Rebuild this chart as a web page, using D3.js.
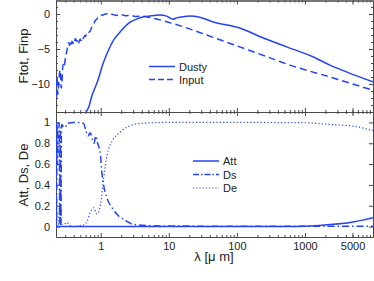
<!DOCTYPE html>
<html><head><meta charset="utf-8">
<title>Dusty vs Input</title>
<script src="https://cdn.jsdelivr.net/npm/d3@7"></script>
<style>
body { margin: 0; background: #fff; }
text { font-family: "Liberation Sans", Arial, Helvetica, sans-serif; fill: #222; }
.axis path, .axis line { stroke: #4a4a4a; }
</style>
</head>
<body>
<script>

// ---- data ----
// top panel: log flux, Dusty (solid) and Input (dashed)
var lamDusty = [0.59, 0.62, 0.667, 0.745, 0.836, 0.935, 1.045, 1.24, 1.55, 1.95, 2.58, 3.41, 4.29, 5.5, 7.4, 9.3, 11.5, 13, 16, 20, 28.5, 44, 110, 240, 540, 1310, 2330, 4150, 10000];
var fDusty   = [-14.6, -13.9, -13.3, -11.6, -10.4, -9.1, -7.5, -5.6, -3.7, -2.5, -1.3, -0.7, -0.4, -0.25, -0.15, -0.3, -0.75, -0.55, -0.4, -0.28, -0.45, -1.1, -2, -3.4, -4.7, -6.1, -7.3, -8.3, -9.7];

var lamInput = [0.216, 0.222, 0.228, 0.234, 0.241, 0.248, 0.255, 0.262, 0.27, 0.278, 0.286, 0.303, 0.32, 0.338, 0.35, 0.36, 0.37, 0.378, 0.39, 0.4, 0.412, 0.424, 0.437, 0.45, 0.462, 0.475, 0.49, 0.5, 0.515, 0.53, 0.545, 0.56, 0.58, 0.596, 0.62, 0.645, 0.667, 0.7, 0.745, 0.78, 0.836, 0.88, 0.935, 1.0, 1.1, 1.22, 1.32, 1.45, 1.7, 1.95, 2.3, 2.73, 3.2, 3.83, 5.25, 9.3, 16, 44, 110, 275, 600, 2330, 10000];
var fInput   = [-10.9, -12.2, -9, -11.5, -10.1, -8.4, -8, -10.6, -9.7, -7.2, -7.6, -6.3, -5.1, -4.1, -4.5, -4.0, -4.4, -3.9, -4.2, -3.7, -3.9, -3.5, -3.8, -3.9, -3.6, -4.1, -3.7, -3.6, -3.8, -3.3, -3.5, -3.4, -3.1, -3.2, -2.9, -3.0, -2.7, -2.4, -1.8, -1.5, -0.9, -0.7, -0.3, -0.2, -0.1, 0.05, -0.15, -0.05, -0.2, -0.05, -0.25, -0.15, -0.35, -0.3, -0.5, -1.1, -1.8, -3.3, -4.7, -6.1, -7.3, -9, -10.9];

// bottom panel: Att (solid), Ds (dash-dot), De (dotted)
var lamAtt = [0.22, 1, 10, 100, 500, 1050, 2330, 3500, 5070, 7000, 10000];
var att    = [0.0, 0.0, 0.0, 0.0, 0.001, 0.004, 0.02, 0.03, 0.045, 0.062, 0.085];

var lamDs = [0.22, 0.224, 0.228, 0.232, 0.236, 0.245, 0.25, 0.255, 0.26, 0.265, 0.27, 0.28, 0.3, 0.32, 0.4, 0.475, 0.56, 0.6, 0.65, 0.7, 0.76, 0.8, 0.84, 0.9, 0.99, 1.045, 1.1, 1.24, 1.47, 1.74, 2.18, 3.05, 5, 10, 100, 1000, 10000];
var ds    = [1.0, 0.05, 0.98, 0.6, 1.0, 0.98, 0.03, 0.95, 0.02, 0.97, 0.98, 0.96, 0.95, 0.99, 1.0, 1.0, 0.99, 0.93, 0.87, 0.9, 0.83, 0.8, 0.87, 0.8, 0.69, 0.5, 0.4, 0.27, 0.18, 0.115, 0.07, 0.02, 0.01, 0.005, 0.004, 0.004, 0.004];

var lamDe = [0.22, 0.224, 0.228, 0.236, 0.25, 0.255, 0.26, 0.265, 0.3, 0.32, 0.35, 0.4, 0.5, 0.58, 0.63, 0.705, 0.79, 0.88, 0.99, 1.1, 1.24, 1.47, 1.95, 2.73, 3.83, 10, 100, 1000, 2330, 5070, 10000];
var de    = [0.0, 0.25, 0.02, 0.0, 0.2, 0.02, 0.15, 0.02, 0.03, 0.04, 0.01, 0.0, 0.01, 0.02, 0.05, 0.14, 0.18, 0.12, 0.21, 0.46, 0.69, 0.82, 0.91, 0.97, 0.99, 1.0, 1.0, 0.997, 0.98, 0.965, 0.92];

// tick values
var xMajor = [1, 10, 100, 1000, 5000];
var xLabels = ["1", "10", "100", "1000", "5000"];
var yTopMajor = [-10, -5, 0];
var yBotMajor = [0, 0.2, 0.4, 0.6, 0.8, 1];

// ---- svg ----
var width = 374;
var height = 281;
var svg = d3.select("body").append("svg").attr("width", width).attr("height", height);

var x = d3.scaleLog().domain([0.22, 10000]).range([56, 373]);
var yTop = d3.scaleLinear().domain([-14, 2]).range([112, 0]);
var yBot = d3.scaleLinear().domain([-0.1, 1.1]).range([237, 112]);

var blue = "#2443f2";

// minor ticks on the log axis
var xMinor = [];
[0.1, 1, 10, 100, 1000].forEach(function(dec) {
	for (var k = 2; k <= 9; k++) {
		var v = dec * k;
		if (v > 0.22 && v < 10000) xMinor.push(v);
	}
});
var yTopMinor = d3.range(-13, 2, 1);

function addAxis(axis, tx, ty) {
	return svg.append("g").attr("class", "axis")
		.attr("transform", "translate(" + tx + "," + ty + ")")
		.call(axis);
}

// top panel frame
addAxis(d3.axisBottom(x).tickValues(xMinor).tickSize(-2).tickSizeOuter(0).tickFormat(""), 0, 112);
addAxis(d3.axisBottom(x).tickValues(xMajor).tickSize(-4).tickSizeOuter(0).tickFormat(""), 0, 112);
addAxis(d3.axisTop(x).tickValues(xMinor).tickSize(-2).tickSizeOuter(0).tickFormat(""), 0, 0.5);
addAxis(d3.axisTop(x).tickValues(xMajor).tickSize(-4).tickSizeOuter(0).tickFormat(""), 0, 0.5);
addAxis(d3.axisLeft(yTop).tickValues(yTopMinor).tickSize(-2).tickSizeOuter(0).tickFormat(""), 56, 0);
addAxis(d3.axisRight(yTop).tickValues(yTopMinor).tickSize(-2).tickSizeOuter(0).tickFormat(""), 373, 0);
addAxis(d3.axisRight(yTop).tickValues(yTopMajor).tickSize(-4).tickSizeOuter(0).tickFormat(""), 373, 0);
addAxis(d3.axisLeft(yTop).tickValues(yTopMajor).tickSize(-4).tickSizeOuter(0).tickPadding(6)
	.tickFormat(function(d) { return d < 0 ? "\u2212" + Math.abs(d) : d; }), 56, 0);

// bottom panel frame
addAxis(d3.axisTop(x).tickValues(xMinor).tickSize(-2).tickSizeOuter(0).tickFormat(""), 0, 112);
addAxis(d3.axisTop(x).tickValues(xMajor).tickSize(-4).tickSizeOuter(0).tickFormat(""), 0, 112);
addAxis(d3.axisBottom(x).tickValues(xMinor).tickSize(-2).tickSizeOuter(0).tickFormat(""), 0, 237);
addAxis(d3.axisBottom(x).tickValues(xMajor).tickSize(-4).tickSizeOuter(0).tickPadding(5)
	.tickFormat(function(d, i) { return xLabels[i]; }), 0, 237);
addAxis(d3.axisRight(yBot).tickValues(yBotMajor).tickSize(-4).tickSizeOuter(0).tickFormat(""), 373, 0);
addAxis(d3.axisLeft(yBot).tickValues(yBotMajor).tickSize(-4).tickSizeOuter(0).tickPadding(6)
	.tickFormat(function(d) { return d === 0 || d === 1 ? d : d3.format(".1f")(d); }), 56, 0);

svg.selectAll(".axis text").style("font-size", "11px").style("fill", "#222");
svg.selectAll(".axis path").attr("stroke-width", 1);

// clip regions
var defs = svg.append("defs");
defs.append("clipPath").attr("id", "clipTop").append("rect")
	.attr("x", 56).attr("y", 0).attr("width", 317).attr("height", 112);
defs.append("clipPath").attr("id", "clipBot").append("rect")
	.attr("x", 56).attr("y", 112).attr("width", 317).attr("height", 125);

function drawLine(g, xs, ys, yScale, dash, w) {
	var pts = xs.map(function(d, i) { return [d, ys[i]]; });
	var line = d3.line()
		.x(function(d) { return x(d[0]); })
		.y(function(d) { return yScale(d[1]); })
		.curve(d3.curveMonotoneX);
	g.append("path").datum(pts)
		.attr("d", line)
		.attr("fill", "none")
		.attr("stroke", blue)
		.attr("stroke-width", w)
		.attr("stroke-dasharray", dash);
}

var gTop = svg.append("g").attr("clip-path", "url(#clipTop)");
drawLine(gTop, lamDusty, fDusty, yTop, null, 1.5);
drawLine(gTop, lamInput, fInput, yTop, "7,4", 1.5);

var gBot = svg.append("g").attr("clip-path", "url(#clipBot)");
drawLine(gBot, lamDe, de, yBot, "1.2,2.2", 1.2);
drawLine(gBot, lamDs, ds, yBot, "7,3,1.5,3", 1.5);
drawLine(gBot, lamAtt, att, yBot, null, 1.5);

// legends
function legend(items, x0, x1, tx, y0, dy) {
	items.forEach(function(it, i) {
		var yy = y0 + i * dy;
		svg.append("line").attr("x1", x0).attr("x2", x1).attr("y1", yy).attr("y2", yy)
			.attr("stroke", blue).attr("stroke-width", it.w)
			.attr("stroke-dasharray", it.dash);
		svg.append("text").attr("x", tx).attr("y", yy + 4).style("font-size", "11px").text(it.name);
	});
}
legend([{name: "Dusty", dash: null, w: 1.5}, {name: "Input", dash: "6,3", w: 1.5}], 149, 175, 179, 66.5, 13);
legend([{name: "Att", dash: null, w: 1.5}, {name: "Ds", dash: "6,2,1.5,2", w: 1.5}, {name: "De", dash: "1.2,2", w: 1.2}], 193, 219, 223, 161, 13.5);

// axis titles
svg.append("text").attr("transform", "translate(28,56) rotate(-90)")
	.attr("text-anchor", "middle").style("font-size", "13px").text("Ftot, Finp");
svg.append("text").attr("transform", "translate(28,175) rotate(-90)")
	.attr("text-anchor", "middle").style("font-size", "13px").text("Att, Ds, De");
svg.append("text").attr("x", 214).attr("y", 261)
	.attr("text-anchor", "middle").style("font-size", "13px").text("\u03bb [\u03bc m]");

</script>
</body></html>
